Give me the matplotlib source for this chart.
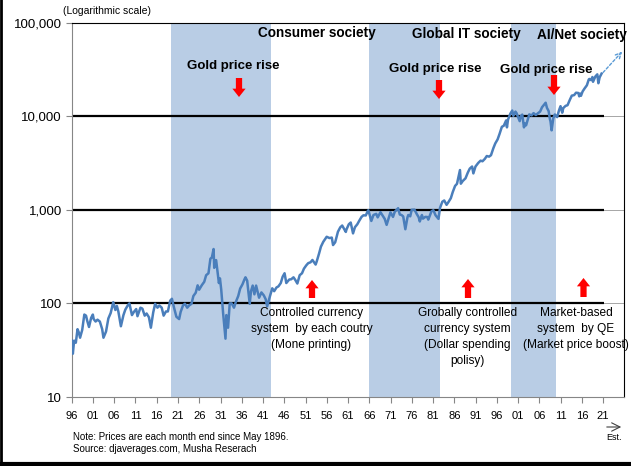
import matplotlib
matplotlib.use("Agg")
import matplotlib.pyplot as plt
from matplotlib import font_manager
from matplotlib.lines import Line2D
import numpy as np

# ---------------- data ----------------
years = [1896.35, 1896.6, 1896.9, 1897.3, 1897.7, 1898.0, 1898.3, 1898.8, 1899.3, 1899.7, 1899.95,
         1900.4, 1900.9, 1901.3, 1901.5, 1901.95, 1902.4, 1902.95, 1903.5, 1903.8, 1904.4, 1904.95,
         1905.5, 1905.95, 1906.1, 1906.6, 1906.95, 1907.3, 1907.9, 1908.5, 1908.95, 1909.5, 1909.9,
         1910.5, 1910.95, 1911.5, 1911.8, 1912.5, 1912.95, 1913.5, 1913.95, 1914.5, 1914.95, 1915.5,
         1915.95, 1916.5, 1916.95, 1917.5, 1917.95, 1918.5, 1918.95, 1919.5, 1919.9, 1920.4, 1920.95,
         1921.6, 1921.95, 1922.5, 1922.95, 1923.5, 1923.95, 1924.5, 1924.95, 1925.5, 1925.95, 1926.3,
         1926.95, 1927.5, 1927.95, 1928.5, 1928.95, 1929.3, 1929.7, 1929.85, 1930.3, 1930.95, 1931.2,
         1931.5, 1931.95, 1932.5, 1932.7, 1933.1, 1933.5, 1933.95, 1934.5, 1934.95, 1935.5, 1935.95,
         1936.5, 1936.95, 1937.2, 1937.6, 1938.2, 1938.5, 1938.9, 1939.3, 1939.7, 1940.4, 1940.95,
         1941.5, 1941.95, 1942.3, 1942.95, 1943.5, 1943.95, 1944.5, 1944.95, 1945.5, 1945.95, 1946.4,
         1946.8, 1947.5, 1947.95, 1948.5, 1948.95, 1949.4, 1949.95, 1950.5, 1950.95, 1951.5, 1951.95,
         1952.5, 1952.95, 1953.7, 1953.95, 1954.5, 1954.95, 1955.5, 1955.95, 1956.3, 1956.95, 1957.5,
         1957.8, 1958.3, 1958.95, 1959.5, 1959.95, 1960.8, 1960.95, 1961.5, 1961.95, 1962.5, 1962.95,
         1963.5, 1963.95, 1964.5, 1964.95, 1965.5, 1965.95, 1966.1, 1966.8, 1967.3, 1967.95, 1968.3,
         1968.95, 1969.5, 1969.95, 1970.4, 1970.95, 1971.3, 1971.9, 1972.3, 1972.95, 1973.1, 1973.5,
         1973.9, 1974.3, 1974.8, 1975.3, 1975.5, 1975.95, 1976.3, 1976.95, 1977.5, 1977.95, 1978.2,
         1978.7, 1978.95, 1979.5, 1979.95, 1980.2, 1980.95, 1981.4, 1981.9, 1982.6, 1982.95, 1983.5,
         1983.95, 1984.5, 1984.95, 1985.5, 1985.95, 1986.5, 1986.95, 1987.65, 1987.85, 1988.3, 1988.95,
         1989.5, 1989.95, 1990.5, 1990.8, 1991.3, 1991.95, 1992.5, 1992.95, 1993.5, 1993.95, 1994.5,
         1994.95, 1995.5, 1995.95, 1996.5, 1996.95, 1997.5, 1997.95, 1998.5, 1998.7, 1998.95, 1999.5,
         1999.95, 2000.2, 2000.7, 2000.95, 2001.7, 2001.95, 2002.3, 2002.7, 2002.95, 2003.2, 2003.95,
         2004.5, 2004.95, 2005.5, 2005.95, 2006.5, 2006.95, 2007.5, 2007.8, 2008.1, 2008.5, 2008.8,
         2008.95, 2009.2, 2009.6, 2009.95, 2010.5, 2010.95, 2011.3, 2011.7, 2011.95, 2012.5, 2012.95,
         2013.5, 2013.95, 2014.5, 2014.95, 2015.5, 2015.7, 2015.95, 2016.1, 2016.5, 2016.95, 2017.5,
         2017.95, 2018.1, 2018.5, 2018.8, 2018.95, 2019.5, 2019.95, 2020.2, 2020.5, 2020.95]
dow = [40, 29, 40, 38, 53, 49, 43, 52, 76, 74, 66,
       56, 70, 76, 68, 64, 67, 64, 53, 43, 50, 69,
       79, 96, 103, 85, 94, 82, 57, 75, 86, 95, 100,
       75, 81, 87, 73, 90, 88, 74, 78, 71, 55, 80,
       99, 90, 95, 90, 74, 82, 82, 107, 112, 90, 72,
       68, 81, 95, 99, 90, 95, 99, 120, 130, 156, 140,
       157, 170, 200, 210, 300, 310, 381, 240, 290, 165, 185,
       140, 78, 42, 75, 55, 100, 100, 90, 104, 120, 144,
       160, 180, 190, 175, 99, 135, 155, 125, 155, 115, 131,
       122, 111, 93, 119, 145, 135, 148, 152, 165, 193, 210,
       165, 180, 181, 190, 177, 163, 200, 210, 235, 255, 269,
       275, 291, 260, 280, 340, 404, 455, 488, 515, 499, 505,
       420, 450, 583, 650, 679, 580, 615, 700, 731, 560, 652,
       700, 762, 840, 874, 870, 969, 990, 760, 880, 905, 830,
       943, 860, 800, 690, 838, 940, 840, 950, 1020, 1040, 890,
       880, 850, 620, 830, 880, 852, 1000, 1004, 900, 831, 750,
       880, 805, 840, 838, 785, 964, 990, 875, 800, 1046, 1220,
       1258, 1130, 1212, 1330, 1547, 1800, 1896, 2660, 1900, 2030, 2169,
       2500, 2753, 2900, 2450, 2900, 3169, 3350, 3301, 3500, 3754, 3700,
       3834, 4550, 5117, 5650, 6448, 7700, 7908, 9000, 7600, 9181, 10650,
       11497, 10100, 11200, 10787, 8850, 10021, 10400, 7600, 8342, 7990, 10454,
       10200, 10783, 10300, 10718, 11200, 12463, 13400, 13930, 12300, 11350, 9300,
       8776, 7062, 9500, 10428, 9774, 11578, 12800, 10900, 12218, 12900, 13104,
       15000, 16577, 16800, 17823, 17700, 16300, 17425, 16500, 18400, 19763, 21400,
       24719, 25000, 24300, 26200, 23327, 26600, 28000, 22500, 26000, 28500]

band_starts = [1919.75, 1966.3, 1999.6]
band_ends = [1943.1, 1983.0, 2010.2]

ref_levels = [100, 1000, 10000]
tick_years = [1896.33 + 5 * i for i in range(26)]
tick_labels = ["96", "01", "06", "11", "16", "21", "26", "31", "36", "41", "46", "51", "56",
               "61", "66", "71", "76", "81", "86", "91", "96", "01", "06", "11", "16", "21"]
y_ticks = [10, 100, 1000, 10000, 100000]
y_labels = ["10", "100", "1,000", "10,000", "100,000"]

proj_years = [2021.3, 2025.8]
proj_vals = [29300, 49000]

# ---------------- fonts ----------------
names = {f.name for f in font_manager.fontManager.ttflist}
BASE = "Liberation Sans" if "Liberation Sans" in names else "DejaVu Sans"
NARROW = "Liberation Sans Narrow" if "Liberation Sans Narrow" in names else None
plt.rcParams["font.family"] = [BASE, "DejaVu Sans"]

W, H = 631, 466
fig = plt.figure(figsize=(W / 100, H / 100), dpi=100)
ax = fig.add_axes([71.7 / W, 1 - 397 / H, (624.3 - 71.7) / W, (397 - 22.6) / H])

def P(x, y):
    return (x / W, 1 - y / H)

# shading
for s, e in zip(band_starts, band_ends):
    ax.axvspan(s, e, color="#B9CDE5", lw=0, zorder=0)

ax.set_yscale("log")
ax.set_ylim(10, 100000)
ax.set_xlim(1896.33, 2026.3)

# gridlines
for v in y_ticks:
    ax.axhline(v, color="#A6A6A6", lw=0.7, zorder=1)
ax.hlines(ref_levels, 1896.33, 2021.5, color="black", lw=1.6, zorder=2)

ax.plot(years, dow, color="#4A7EBB", lw=1.8, zorder=3)

# projection arrow
ax.annotate("", xy=(proj_years[1], proj_vals[1]), xytext=(proj_years[0], proj_vals[0]),
            arrowprops=dict(arrowstyle="->", linestyle=(0, (2, 1.5)), color="#5B9BD5", lw=1.0,
                            shrinkA=0, shrinkB=0), zorder=4)

ax.set_yticks(y_ticks)
ax.set_yticklabels(y_labels, fontsize=9.5)
ax.yaxis.set_minor_locator(matplotlib.ticker.NullLocator())
ax.set_xticks(tick_years)
xfont = dict(fontsize=8) if NARROW is None else dict(fontsize=9, family=NARROW)
ax.set_xticklabels(tick_labels, **xfont)
ax.tick_params(axis="both", direction="out", length=4, color="#868686", width=0.8, pad=3)
ax.tick_params(axis="x", pad=6)
for s in ["left", "bottom"]:
    ax.spines[s].set_color("#868686")
for s in ["top", "right"]:
    ax.spines[s].set_color("black")

# top labels
tb = dict(fontsize=9.8, fontweight="bold", ha="center", va="center")
fig.text(*P(316.5, 33.5), "Consumer society", **tb)
fig.text(*P(466, 34), "Global IT society", **tb)
fig.text(*P(582, 35), "AI/Net society", **tb)
gb = dict(fontsize=9.5, fontweight="bold", ha="center", va="center")
fig.text(*P(233, 66), "Gold price rise", **gb)
fig.text(*P(435, 69), "Gold price rise", **gb)
fig.text(*P(546.5, 70), "Gold price rise", **gb)

def red_arrow(x, y0, y1):
    ax.annotate("", xy=P(x, y1), xytext=P(x, y0), xycoords="figure fraction",
                textcoords="figure fraction",
                arrowprops=dict(arrowstyle="simple,head_width=0.95,head_length=0.6,tail_width=0.45",
                                fc="#FF0000", ec="#FF0000", lw=0, shrinkA=0, shrinkB=0,
                                mutation_scale=10), zorder=6, annotation_clip=False)

red_arrow(239, 78, 97)
red_arrow(439, 80, 99)
red_arrow(554, 75, 95)
red_arrow(312, 298, 280)
red_arrow(468, 298, 279)
red_arrow(583.5, 297, 278)

bfont = dict(fontsize=8.6) if NARROW is None else dict(fontsize=10, family=NARROW)

def lines(x, y0, txts):
    for i, t in enumerate(txts):
        fig.text(*P(x, y0 + 16 * i), t, ha="center", va="center", **bfont)

lines(311.5, 313, ["Controlled currency", "system  by each coutry", "(Mone printing)"])
lines(467.5, 313, ["Grobally controlled", "currency system", "(Dollar spending", "polisy)"])
lines(576, 313, ["Market-based", "system  by QE", "(Market price boost)"])

fig.text(*P(63, 11), "(Logarithmic scale)", fontsize=7.5, ha="left", va="center")
fig.text(*P(73, 437), "Note: Prices are each month end since May 1896.", fontsize=7, ha="left", va="center")
fig.text(*P(73, 449), "Source: djaverages.com, Musha Reserach", fontsize=7, ha="left", va="center")
fig.text(*P(614, 438), "Est.", fontsize=6.5, ha="center", va="center")
fig.add_artist(matplotlib.patches.FancyArrowPatch(P(604, 427), P(624, 427), transform=fig.transFigure,
                                                  arrowstyle="->,head_width=3,head_length=6",
                                                  color="#404040", lw=0.8, mutation_scale=1))

# picture frame (left and bottom)
fig.add_artist(Line2D([1 / W, 1 / W], [0, 1], transform=fig.transFigure, color="black", lw=2))
fig.add_artist(Line2D([0, 1], [2.5 / H, 2.5 / H], transform=fig.transFigure, color="black", lw=3))

fig.savefig("out.png", dpi=100)
